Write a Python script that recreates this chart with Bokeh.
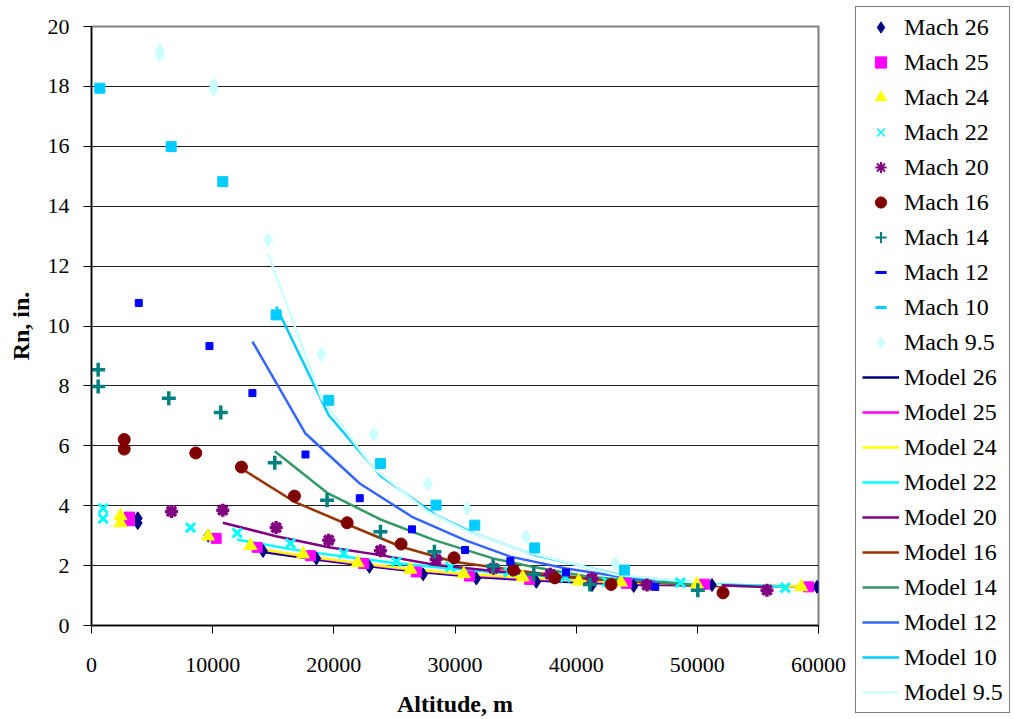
from bokeh.plotting import figure
from bokeh.layouts import row, column
from bokeh.models import Range1d, Legend, LegendItem, FixedTicker, PrintfTickFormatter
from bokeh.embed import file_html
from bokeh.resources import INLINE

FONT = "Liberation Serif"
NAN = float("nan")

# ---------------- data ----------------
mach26_x = [3820, 3820, 9630, 14160, 18560, 22935, 27370, 31765, 36715, 41310, 44750, 51210, 59880]
mach26_y = [3.58, 3.42, 3.0, 2.49, 2.24, 1.96, 1.71, 1.57, 1.46, 1.35, 1.32, 1.35, 1.29]
mach25_x = [3135, 3135, 10290, 13670, 18070, 22470, 26800, 31190, 36160, 44140, 50580, 59180]
mach25_y = [3.62, 3.5, 2.91, 2.61, 2.33, 2.07, 1.79, 1.65, 1.54, 1.41, 1.38, 1.29]
mach24_x = [2390, 2390, 9630, 13120, 17460, 21970, 26320, 30720, 35590, 40210, 43700, 49960, 58580]
mach24_y = [3.66, 3.42, 2.98, 2.66, 2.38, 2.09, 1.87, 1.72, 1.61, 1.48, 1.44, 1.38, 1.29]
mach22_x = [960, 960, 8170, 12020, 16420, 20820, 25165, 29620, 34430, 39110, 42550, 48600, 57260]
mach22_y = [3.91, 3.57, 3.27, 3.09, 2.74, 2.41, 2.13, 1.96, 1.79, 1.61, 1.46, 1.43, 1.26]
mach20_x = [6600, 10835, 15240, 19580, 23845, 28440, 33190, 37870, 41310, 45850, 55750]
mach20_y = [3.81, 3.85, 3.27, 2.85, 2.5, 2.21, 1.91, 1.71, 1.57, 1.35, 1.18]
mach16_x = [2700, 2700, 8605, 12375, 16750, 21100, 25550, 29920, 34820, 38230, 42880, 52120]
mach16_y = [6.21, 5.89, 5.76, 5.29, 4.32, 3.43, 2.72, 2.26, 1.85, 1.59, 1.37, 1.09]
mach14_x = [550, 550, 6380, 10670, 15125, 19445, 23845, 28300, 33140, 36500, 41130, 50040]
mach14_y = [8.54, 7.98, 7.59, 7.11, 5.43, 4.18, 3.13, 2.46, 1.99, 1.71, 1.37, 1.18]
mach12_x = [3900, 9735, 13280, 17660, 22140, 26450, 30830, 34570, 39165, 46530]
mach12_y = [10.77, 9.33, 7.76, 5.71, 4.25, 3.21, 2.52, 2.15, 1.77, 1.29]
mach10_x = [685, 6575, 10835, 15240, 19580, 23845, 28440, 31630, 36580, 43980]
mach10_y = [17.94, 15.99, 14.82, 10.37, 7.52, 5.41, 4.02, 3.35, 2.59, 1.85]
mach95_x = [5636, 5636, 10090, 10090, 14580, 18950, 23290, 27750, 31000, 35870, 43230]
mach95_y = [19.2, 19.05, 18.05, 17.9, 12.87, 9.05, 6.38, 4.74, 3.9, 2.96, 2.07]

model26_x = [14160, 18560, 22935, 27370, 31765, 36715, 41310, 44750, 51210, 59880]
model26_y = [2.45, 2.2, 1.98, 1.78, 1.62, 1.5, 1.42, 1.37, 1.33, 1.3]
model25_x = [13670, 18070, 22470, 26800, 31190, 36160, 44140, 50580, 59180]
model25_y = [2.55, 2.27, 2.04, 1.84, 1.68, 1.55, 1.41, 1.35, 1.3]
model24_x = [13120, 17460, 21970, 26320, 30720, 35590, 40210, 43700, 49960, 58580]
model24_y = [2.6, 2.33, 2.09, 1.88, 1.72, 1.6, 1.5, 1.44, 1.37, 1.3]
model22_x = [12020, 16420, 20820, 25165, 29620, 34430, 39110, 42550, 48600, 57260]
model22_y = [2.87, 2.55, 2.3, 2.08, 1.9, 1.74, 1.6, 1.52, 1.42, 1.3]
model20_x = [10835, 15240, 19580, 23845, 28440, 33190, 37870, 41310, 45850, 55750]
model20_y = [3.43, 2.98, 2.61, 2.35, 2.02, 1.82, 1.66, 1.55, 1.45, 1.28]
model16_x = [12375, 16750, 21100, 25550, 29920, 34820, 38230, 42880, 52120]
model16_y = [5.24, 4.13, 3.38, 2.63, 2.13, 1.85, 1.68, 1.5, 1.3]
model14_x = [15125, 19445, 23845, 28300, 33140, 36500, 41130, 50040]
model14_y = [5.82, 4.43, 3.54, 2.85, 2.24, 1.95, 1.62, 1.35]
model12_x = [13280, 17660, 22140, 26450, 30830, 34570, 39165, 46530]
model12_y = [9.48, 6.41, 4.74, 3.63, 2.85, 2.3, 1.9, 1.45]
model10_x = [15240, 19580, 23845, 28440, 31630, 36580, 43980, 52000]
model10_y = [10.65, 7.02, 5.0, 3.68, 3.07, 2.35, 1.65, 1.35]
model95_x = [14580, 18950, 23290, 27750, 31000, 35870, 43230, 52000]
model95_y = [12.4, 7.6, 5.25, 3.8, 3.15, 2.45, 1.7, 1.35]

x_ticks = [0, 10000, 20000, 30000, 40000, 50000, 60000]
y_ticks = [0, 2, 4, 6, 8, 10, 12, 14, 16, 18, 20]

# ---------------- main figure ----------------
p = figure(width=849, height=719, output_backend="svg", toolbar_location=None,
           x_range=Range1d(0, 60000), y_range=Range1d(0, 20),
           min_border_left=91, min_border_right=31, min_border_top=26, min_border_bottom=93,
           background_fill_color="white", border_fill_color="white")

p.outline_line_color = "#808080"
p.outline_line_width = 2
p.xgrid.visible = False
p.ygrid.grid_line_color = "#202020"
p.ygrid.grid_line_width = 1

p.xaxis.ticker = FixedTicker(ticks=x_ticks)
p.yaxis.ticker = FixedTicker(ticks=y_ticks)
p.xaxis.formatter = PrintfTickFormatter(format="%d")
p.yaxis.formatter = PrintfTickFormatter(format="%d")
for ax in (p.xaxis, p.yaxis):
    ax.axis_line_color = "black"
    ax.axis_line_width = 1.5
    ax.major_tick_in = 0
    ax.major_tick_out = 8
    ax.major_tick_line_color = "black"
    ax.minor_tick_line_color = None
    ax.major_label_text_font = FONT
    ax.major_label_text_font_size = "22px"
    ax.major_label_text_color = "black"
    ax.axis_label_text_font = FONT
    ax.axis_label_text_font_size = "24px"
    ax.axis_label_text_font_style = "bold"
    ax.axis_label_text_color = "black"
p.xaxis.axis_label = "Altitude, m"
p.yaxis.axis_label = "Rn, in."
p.xaxis.major_label_standoff = 24
p.yaxis.major_label_standoff = 14
p.xaxis.axis_label_standoff = 16
p.yaxis.axis_label_standoff = 11

# ---------------- legend holder figure ----------------
lg = figure(width=163, height=719, output_backend="svg", toolbar_location=None,
            x_range=Range1d(0, 1), y_range=Range1d(0, 1),
            x_axis_type=None, y_axis_type=None,
            min_border_left=0, min_border_right=0, min_border_top=0, min_border_bottom=0,
            background_fill_color="white", border_fill_color="white")
lg.outline_line_color = None
lg.xgrid.visible = False
lg.ygrid.visible = False

# ---------------- series styles ----------------
machs = [
    ("Mach 26", mach26_x, mach26_y, "#000080", "diamond", 13, 1, ("diamond", 10, 1)),
    ("Mach 25", mach25_x, mach25_y, "#FF00FF", "square", 10, 1, ("square", 9, 1)),
    ("Mach 24", mach24_x, mach24_y, "#FFFF00", "triangle", 13, 1, ("triangle", 11, 1)),
    ("Mach 22", mach22_x, mach22_y, "#00FFFF", "x", 13, 3, ("x", 10, 1.5)),
    ("Mach 20", mach20_x, mach20_y, "#800080", "asterisk", 13, 3.5, ("asterisk", 10, 2)),
    ("Mach 16", mach16_x, mach16_y, "#800000", "circle", 12, 1, ("circle", 10, 1)),
    ("Mach 14", mach14_x, mach14_y, "#008080", "cross", 14, 3.5, ("cross", 11, 2)),
    ("Mach 12", mach12_x, mach12_y, "#0000FF", "square", 7, 1, ("dash", 7, 3)),
    ("Mach 10", mach10_x, mach10_y, "#00CCFF", "square", 10, 1, ("dash", 12, 3)),
    ("Mach 9.5", mach95_x, mach95_y, "#CCFFFF", "diamond", 14, 1, ("diamond", 10, 1)),
]
models = [
    ("Model 26", model26_x, model26_y, "#000080"),
    ("Model 25", model25_x, model25_y, "#FF00FF"),
    ("Model 24", model24_x, model24_y, "#FFFF00"),
    ("Model 22", model22_x, model22_y, "#00FFFF"),
    ("Model 20", model20_x, model20_y, "#800080"),
    ("Model 16", model16_x, model16_y, "#993300"),
    ("Model 14", model14_x, model14_y, "#339966"),
    ("Model 12", model12_x, model12_y, "#3366FF"),
    ("Model 10", model10_x, model10_y, "#00CCFF"),
    ("Model 9.5", model95_x, model95_y, "#CCFFFF"),
]

items = []
for name, xs, ys, col in models:
    p.line(xs, ys, line_color=col, line_width=2.5)

for name, xs, ys, col, mk, sz, lw, leg in machs:
    p.scatter(xs, ys, marker=mk, size=sz, fill_color=col, line_color=col, line_width=lw)
    d = lg.scatter([NAN], [NAN], marker=leg[0], size=leg[1], fill_color=col,
                   line_color=col, line_width=leg[2])
    items.append(LegendItem(label=name, renderers=[d]))

for name, xs, ys, col in models:
    d = lg.line([NAN, NAN], [NAN, NAN], line_color=col, line_width=2.5)
    items.append(LegendItem(label=name, renderers=[d]))

legend = Legend(items=items, location="top_left",
                label_text_font=FONT, label_text_font_size="24px", label_text_color="black",
                label_height=28, glyph_height=28, glyph_width=37, label_standoff=5,
                spacing=7, padding=6, margin=6,
                border_line_color="black", border_line_width=1,
                background_fill_color="white", background_fill_alpha=1.0)
lg.add_layout(legend, "center")

layout = row(p, column(lg))
open("out.html", "w").write(file_html(layout, INLINE))
